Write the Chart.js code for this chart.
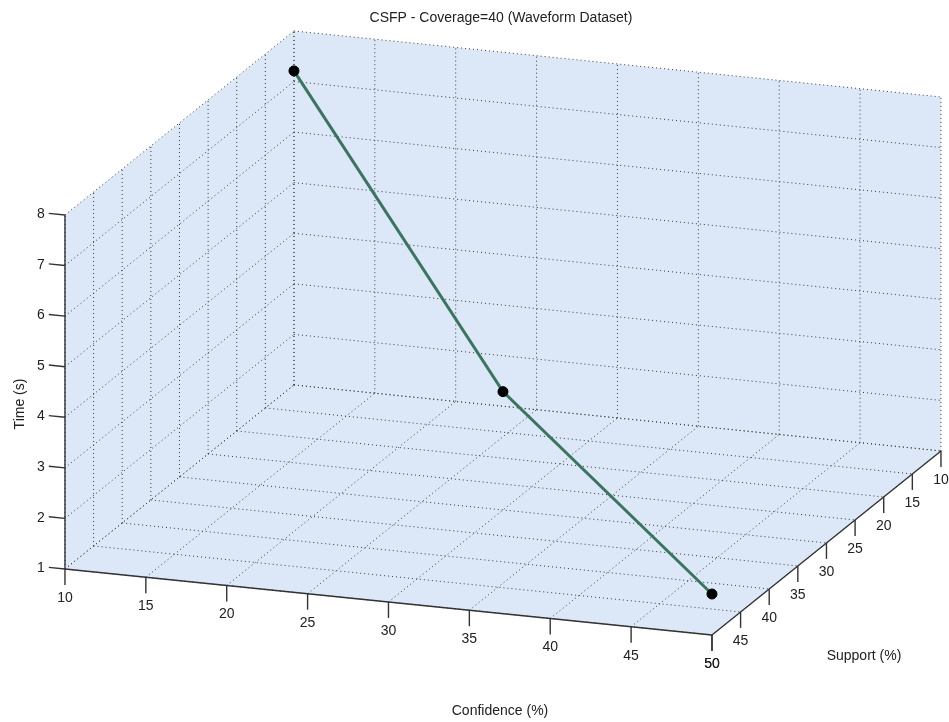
<!DOCTYPE html>
<html>
<head>
<meta charset="utf-8">
<script src="https://cdn.jsdelivr.net/npm/chart.js@4/dist/chart.umd.min.js"></script>
<style>
  html, body { margin: 0; padding: 0; background: #ffffff; }
  #wrap { width: 949px; height: 722px; }
</style>
</head>
<body>
<div id="wrap"><canvas id="c" width="949" height="722"></canvas></div>
<script>
// Measured runs: thresholds and elapsed time
const confidence = [10, 30, 50];
const support = [10, 30, 50];
const timeSec = [7.21, 3.34, 1.81];

// Tick values on the three axes
const confTicks = [10, 15, 20, 25, 30, 35, 40, 45, 50];
const supportTicks = [10, 15, 20, 25, 30, 35, 40, 45, 50];
const timeTicks = [1, 2, 3, 4, 5, 6, 7, 8];

const titleText = 'CSFP - Coverage=40 (Waveform Dataset)';
const confLabel = 'Confidence (%)';
const supportLabel = 'Support (%)';
const timeLabel = 'Time (s)';

// Axis limits
const confLim = [10, 50];
const supLim = [10, 50];
const timeLim = [1, 8];

// Orthographic view: azimuth / elevation (degrees), plot-box aspect,
// and the visible window of the projected plane
const VIEW = {
  az: -19.61,
  el: 16.64,
  box: [1, 0.9934, 0.538],
  window: { x: [-0.0946, 1.2871], y: [-0.2228, 0.8285] }
};

const RAD = Math.PI / 180;
const cosA = Math.cos(VIEW.az * RAD), sinA = Math.sin(VIEW.az * RAD);
const cosE = Math.cos(VIEW.el * RAD), sinE = Math.sin(VIEW.el * RAD);

// 3-D (confidence, support, time) -> projected plane; support runs toward the viewer
function project(conf, sup, t) {
  const p = (conf - confLim[0]) / (confLim[1] - confLim[0]) * VIEW.box[0];
  const q = (supLim[1] - sup) / (supLim[1] - supLim[0]) * VIEW.box[1];
  const r = (t - timeLim[0]) / (timeLim[1] - timeLim[0]) * VIEW.box[2];
  return { x: p * cosA - q * sinA, y: p * sinA * sinE + q * cosA * sinE + r * cosE };
}

const points = confidence.map((c, i) => project(c, support[i], timeSec[i]));

const FONT = '14px "Liberation Sans", Arial, sans-serif';
const TEXT = '#222222';
const PANEL = '#dce8f7';
const GRID = '#3a3a3a';
const AXIS = '#333333';

const boxPlugin = {
  id: 'box3d',
  beforeDatasetsDraw(chart) {
    const { ctx } = chart;
    const xs = chart.scales.x, ys = chart.scales.y;
    const P = (c, s, t) => {
      const v = project(c, s, t);
      return [xs.getPixelForValue(v.x), ys.getPixelForValue(v.y)];
    };
    const [c0, c1] = confLim, [s0, s1] = supLim, [t0, t1] = timeLim;

    const poly = (pts) => {
      ctx.beginPath();
      pts.forEach((p, i) => i ? ctx.lineTo(p[0], p[1]) : ctx.moveTo(p[0], p[1]));
      ctx.closePath();
      ctx.fill();
    };
    const seg = (a, b) => {
      ctx.beginPath();
      ctx.moveTo(a[0], a[1]);
      ctx.lineTo(b[0], b[1]);
      ctx.stroke();
    };

    ctx.save();
    // panels: floor, back wall (support = 10), left wall (confidence = 10)
    ctx.fillStyle = PANEL;
    poly([P(c0, s1, t0), P(c1, s1, t0), P(c1, s0, t0), P(c0, s0, t0)]);
    poly([P(c0, s0, t0), P(c1, s0, t0), P(c1, s0, t1), P(c0, s0, t1)]);
    poly([P(c0, s1, t0), P(c0, s0, t0), P(c0, s0, t1), P(c0, s1, t1)]);

    // dotted grid
    ctx.strokeStyle = GRID;
    ctx.lineWidth = 1;
    ctx.setLineDash([1, 3]);
    confTicks.forEach(c => {
      seg(P(c, s1, t0), P(c, s0, t0));
      seg(P(c, s0, t0), P(c, s0, t1));
    });
    supportTicks.forEach(s => {
      seg(P(c0, s, t0), P(c1, s, t0));
      seg(P(c0, s, t0), P(c0, s, t1));
    });
    timeTicks.forEach(t => {
      seg(P(c0, s0, t), P(c1, s0, t));
      seg(P(c0, s1, t), P(c0, s0, t));
    });
    ctx.setLineDash([]);

    // solid axes
    ctx.strokeStyle = AXIS;
    ctx.lineWidth = 1.4;
    seg(P(c0, s1, t0), P(c0, s1, t1));
    seg(P(c0, s1, t0), P(c1, s1, t0));
    seg(P(c1, s1, t0), P(c1, s0, t0));

    ctx.fillStyle = TEXT;
    ctx.font = FONT;

    // time ticks point along -confidence
    const zTick = (c1 - c0) * 0.025;
    ctx.textAlign = 'right';
    ctx.textBaseline = 'middle';
    timeTicks.forEach(t => {
      const a = P(c0, s1, t), b = P(c0 - zTick, s1, t);
      seg(a, b);
      ctx.fillText(String(t), b[0] - 4, b[1] + 1);
    });

    // confidence and support ticks point downward
    const hTick = (t1 - t0) * 0.045;
    ctx.textAlign = 'center';
    confTicks.forEach(c => {
      const a = P(c, s1, t0), b = P(c, s1, t0 - hTick);
      seg(a, b);
      ctx.fillText(String(c), a[0], a[1] + 29);
    });
    supportTicks.forEach(s => {
      const a = P(c1, s, t0), b = P(c1, s, t0 - hTick);
      seg(a, b);
      ctx.fillText(String(s), a[0], a[1] + 29);
    });

    // title and axis labels
    ctx.fillText(titleText, 501, 18);
    ctx.fillText(confLabel, 500, 711);
    ctx.fillText(supportLabel, 864, 656);
    ctx.save();
    ctx.translate(20, 404);
    ctx.rotate(-Math.PI / 2);
    ctx.fillText(timeLabel, 0, 0);
    ctx.restore();

    ctx.restore();
  }
};

new Chart(document.getElementById('c'), {
  type: 'scatter',
  data: {
    datasets: [{
      label: timeLabel,
      data: points,
      showLine: true,
      borderColor: '#3b7560',
      borderWidth: 3,
      pointRadius: 5,
      pointHoverRadius: 5,
      pointBackgroundColor: '#000000',
      pointBorderColor: '#000000',
      pointBorderWidth: 1
    }]
  },
  options: {
    responsive: false,
    animation: false,
    devicePixelRatio: 1,
    layout: { padding: 0, autoPadding: false },
    plugins: { legend: { display: false }, tooltip: { enabled: false } },
    scales: {
      x: { type: 'linear', display: false, min: VIEW.window.x[0], max: VIEW.window.x[1] },
      y: { type: 'linear', display: false, min: VIEW.window.y[0], max: VIEW.window.y[1] }
    }
  },
  plugins: [boxPlugin]
});
</script>
</body>
</html>
